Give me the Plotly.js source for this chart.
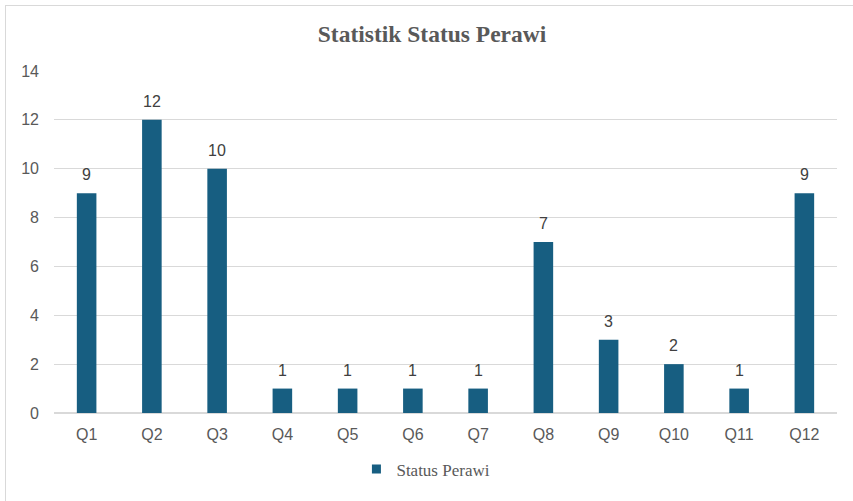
<!DOCTYPE html>
<html><head><meta charset="utf-8">
<script src="https://cdn.plot.ly/plotly-3.0.1.min.js"></script>
<style>
html,body{margin:0;padding:0;background:#fff;overflow:hidden;}
#chart{width:853px;height:501px;}
#frame{position:absolute;left:5px;top:5px;width:900px;height:600px;border-left:1.5px solid #d9d9d9;border-top:1.5px solid #d9d9d9;pointer-events:none;}
</style></head>
<body>
<div id="chart"></div>
<div id="frame"></div>
<script>
const categories = ["Q1","Q2","Q3","Q4","Q5","Q6","Q7","Q8","Q9","Q10","Q11","Q12"];
const values = [9,12,10,1,1,1,1,7,3,2,1,9];
const seriesName = "Status Perawi";
const yTicks = [0,2,4,6,8,10,12,14];
const barColor = '#175e81';

const trace = {
  type: 'bar', x: categories, y: values, name: seriesName,
  marker: {color: barColor}, width: 0.3, showlegend: false,
  hoverinfo: 'skip'
};
const legendTrace = {
  type: 'scatter', mode: 'markers', x: [null], y: [null], name: seriesName,
  marker: {symbol: 'square', size: 9, color: barColor}, showlegend: true
};
const annotations = categories.map((c, i) => ({
  x: c, y: values[i], xref: 'x', yref: 'y', text: String(values[i]),
  showarrow: false, yanchor: 'bottom', yshift: 8,
  font: {family: 'Liberation Sans, Arial, sans-serif', size: 16, color: '#404040'}
}));
const layout = {
  width: 853, height: 501,
  margin: {l: 54, r: 16, t: 71, b: 88},
  paper_bgcolor: '#fff', plot_bgcolor: '#fff',
  title: {text: '<b>Statistik Status Perawi</b>', x: 0.5065, xref: 'container', xanchor: 'center', y: 0.932, yref: 'container', yanchor: 'middle',
    font: {family: 'Liberation Serif, Times New Roman, serif', size: 23.5, color: '#595959'}},
  xaxis: {type: 'category', showgrid: false, showline: false, zeroline: false, ticks: '',
    tickfont: {family: 'Liberation Sans, Arial, sans-serif', size: 16, color: '#595959'}, ticklabelstandoff: 10},
  yaxis: {range: [0, 14], tickvals: yTicks, showgrid: true, gridcolor: '#d9d9d9', gridwidth: 1,
    zeroline: true, zerolinecolor: '#d9d9d9', zerolinewidth: 1.5, showline: false, ticks: '',
    tickfont: {family: 'Liberation Sans, Arial, sans-serif', size: 16, color: '#595959'}, ticklabelstandoff: 14},
  showlegend: true,
  legend: {orientation: 'h', x: 0.475, xanchor: 'center', y: -0.165, yanchor: 'middle',
    font: {family: 'Liberation Serif, Times New Roman, serif', size: 17, color: '#595959'},
    itemwidth: 30, traceorder: 'normal'},
  annotations: annotations,
  bargap: 0.7
};
Plotly.newPlot('chart', [trace, legendTrace], layout, {displayModeBar: false, staticPlot: true});
</script>
</body></html>
